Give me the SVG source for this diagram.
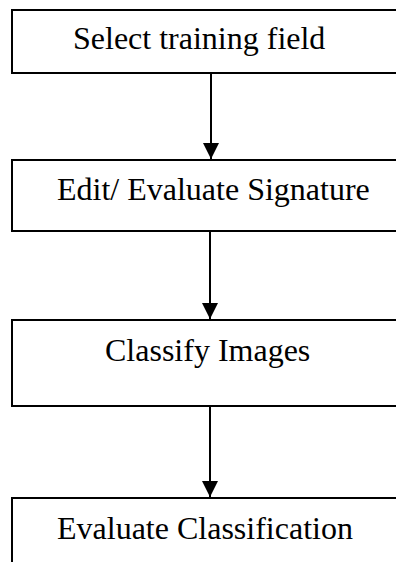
<svg xmlns="http://www.w3.org/2000/svg" width="396" height="562" viewBox="0 0 396 562">
<style>
.box{fill:#fff;stroke:#000;stroke-width:2}
.lbl{font-family:'Liberation Serif',Tinos,'Times New Roman',Times,serif;font-size:32px;fill:#000}
.conn{stroke:#000;stroke-width:2;fill:none}
</style>
<defs>
<marker id="arr" markerUnits="userSpaceOnUse" markerWidth="16" markerHeight="16" viewBox="0 0 16 16" refX="16" refY="8" orient="auto">
<path d="M0,0 L16,8 L0,16 Z" fill="#000"/>
</marker>
</defs>
<rect width="396" height="562" fill="#fff"/>
<g id="n1"><rect class="box" x="12" y="10" width="400" height="63"/><text class="lbl" font-family="Liberation Serif, serif" x="73" y="49">Select training field</text></g>
<g id="n2"><rect class="box" x="12" y="160" width="400" height="71"/><text class="lbl" font-family="Liberation Serif, serif" x="57" y="200">Edit/ Evaluate Signature</text></g>
<g id="n3"><rect class="box" x="12" y="320" width="400" height="86"/><text class="lbl" font-family="Liberation Serif, serif" x="105" y="361">Classify Images</text></g>
<g id="n4"><rect class="box" x="12" y="498" width="400" height="100"/><text class="lbl" font-family="Liberation Serif, serif" x="57" y="539">Evaluate Classification</text></g>
<g id="connectors">
<line class="conn" x1="211" y1="74" x2="211" y2="159" marker-end="url(#arr)"/>
<line class="conn" x1="210" y1="232" x2="210" y2="319" marker-end="url(#arr)"/>
<line class="conn" x1="210" y1="407" x2="210" y2="497" marker-end="url(#arr)"/>
</g>
</svg>
